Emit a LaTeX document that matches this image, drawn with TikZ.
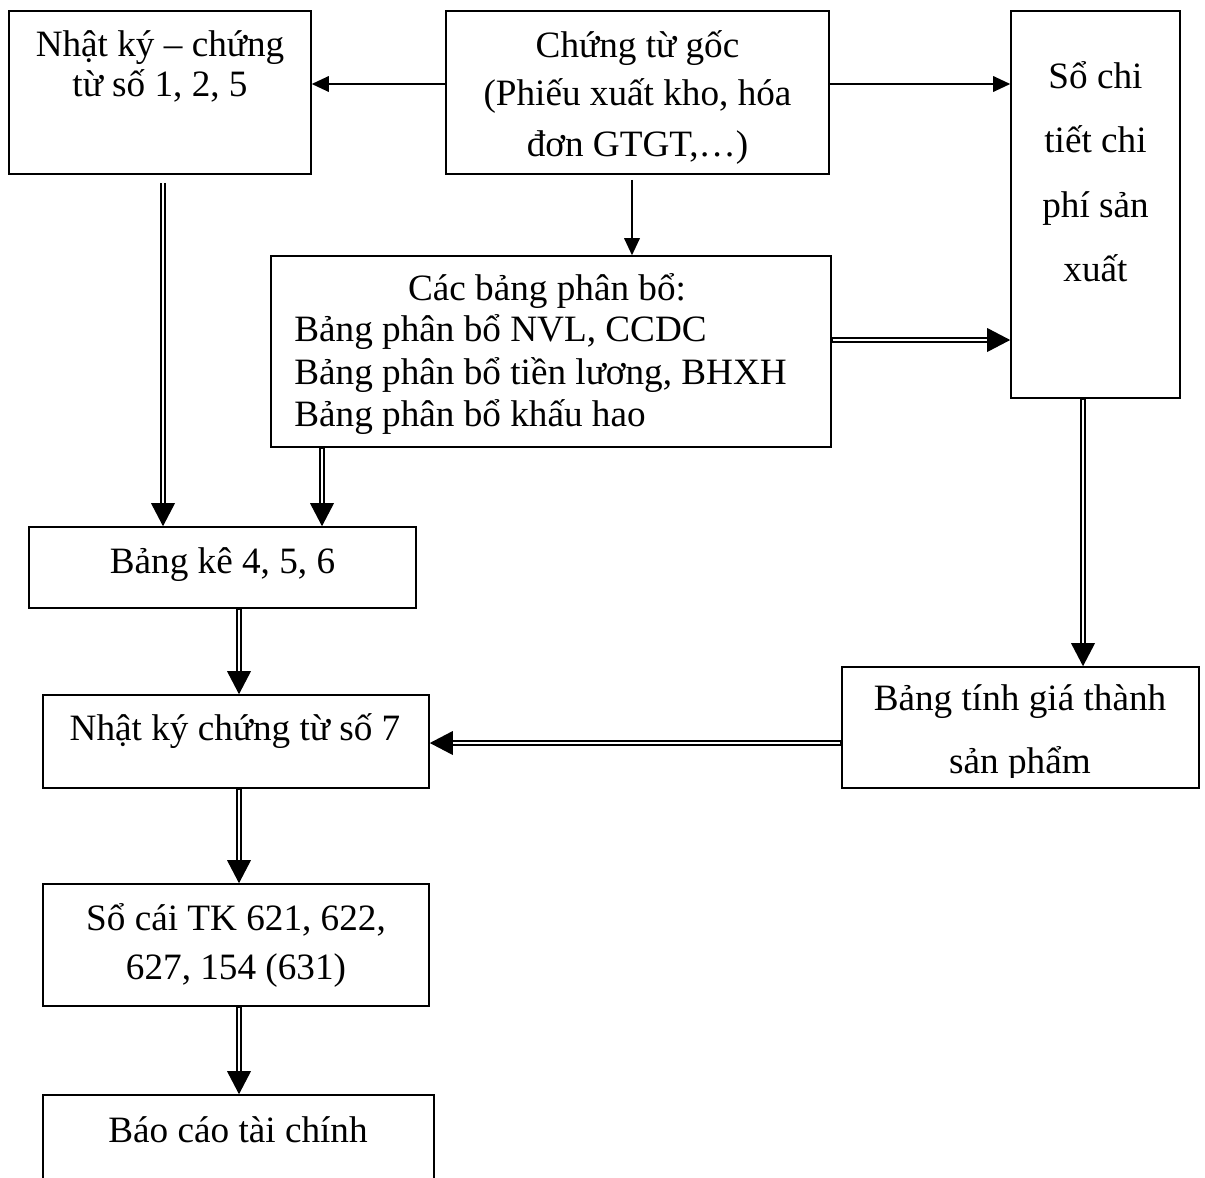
\documentclass[tikz,border=0pt]{standalone}
\usepackage{fontspec}
\setmainfont{Liberation Serif}
\usetikzlibrary{arrows.meta}
\tikzset{
  box/.style={draw, line width=0.8pt, rectangle, inner sep=0pt},
  lbl/.style={anchor=base, inner sep=0pt, font=\fontsize{18.6}{22}\selectfont},
  lbll/.style={lbl, anchor=base west},
  one/.style={line width=1.1pt, -{Triangle[length=8.5pt,width=8pt,line width=0pt]}},
  dblout/.style={line width=3.4pt, -{Triangle[length=11.5pt,width=12pt,line width=0pt]}},
  dblin/.style={white, line width=1.4pt, shorten >=11.5pt, shorten <=0.4pt},
}
% double-line connector: thick black stroke with tip, white core on top
\newcommand\dblcon[3][]{\draw[dblout,#1] #2 -- #3; \draw[dblin,#1] #2 -- #3;}
\begin{document}
\begin{tikzpicture}[x=0.5pt, y=-0.5pt]
\clip (0,0) rectangle (1205,1178);

% boxes
\node[box, minimum width=151pt,   minimum height=81.5pt] (A) at (160,92.5) {};
\node[box, minimum width=191.5pt, minimum height=81.5pt] (B) at (637.5,92.5) {};
\node[box, minimum width=84.5pt,  minimum height=193.5pt] (C) at (1095.5,204.5) {};
\node[box, minimum width=280pt,   minimum height=95.5pt] (D) at (551,351.5) {};
\node[box, minimum width=193.5pt, minimum height=40.5pt] (E) at (222.5,567.5) {};
\node[box, minimum width=193pt,   minimum height=46.5pt] (F) at (236,741.5) {};
\node[box, minimum width=178.5pt, minimum height=60.5pt] (G) at (1020.5,727.5) {};
\node[box, minimum width=193pt,   minimum height=61pt]   (H) at (236,945) {};
\node[box, minimum width=195.5pt, minimum height=60pt]   (I) at (238.5,1155) {};

% guide lines for connectors
\coordinate (yTop) at (0,84);
\coordinate (yMid) at (0,340);
\coordinate (yLow) at (0,743);
\coordinate (xA) at (163,0);
\coordinate (xD) at (322,0);
\coordinate (xB) at (632,0);
\coordinate (xC) at (1083,0);
\coordinate (xF) at (239,0);

% single connectors
\draw[one] (B.west |- yTop) -- (A.east |- yTop);
\draw[one] (B.east |- yTop) -- (C.west |- yTop);
\draw[one, shorten <=2.5pt] (B.south -| xB) -- (D.north -| xB);

% double connectors
\dblcon[shorten <=4pt]{(A.south -| xA)}{(E.north -| xA)}
\dblcon{(D.south -| xD)}{(E.north -| xD)}
\dblcon{(D.east |- yMid)}{(C.west |- yMid)}
\dblcon{(C.south -| xC)}{(G.north -| xC)}
\dblcon{(G.west |- yLow)}{(F.east |- yLow)}
\dblcon{(E.south -| xF)}{(F.north -| xF)}
\dblcon{(F.south -| xF)}{(H.north -| xF)}
\dblcon{(H.south -| xF)}{(I.north -| xF)}

% labels
\node[lbl] (tA1) at (160,56) {Nhật ký – chứng};
\node[lbl] (tA2) at (160,96) {từ số 1, 2, 5};

\node[lbl] (tB1) at (637.5,57) {Chứng từ gốc};
\node[lbl] (tB2) at (637.5,105) {(Phiếu xuất kho, hóa};
\node[lbl] (tB3) at (637.5,156) {đơn GTGT,…)};

\node[lbl] (tC1) at (1095.5,88) {Sổ chi};
\node[lbl] (tC2) at (1095.5,152) {tiết chi};
\node[lbl] (tC3) at (1095.5,217) {phí sản};
\node[lbl] (tC4) at (1095.5,281) {xuất};

\node[lbl]  (tD1) at (547,300) {Các bảng phân bổ:};
\node[lbll] (tD2) at (294,341) {Bảng phân bổ NVL, CCDC};
\node[lbll] (tD3) at (294,384) {Bảng phân bổ tiền lương, BHXH};
\node[lbll] (tD4) at (294,426) {Bảng phân bổ khấu hao};

\node[lbl] (tE) at (222.5,573) {Bảng kê 4, 5, 6};
\node[lbl] (tF) at (235,740) {Nhật ký chứng từ số 7};

\begin{scope}
  \clip (G.north west) rectangle ([yshift=5.5pt]G.south east);
  \node[lbl] (tG1) at (1020,710) {Bảng tính giá thành};
  \node[lbl] (tG2) at (1020,773) {sản phẩm};
\end{scope}

\node[lbl] (tH1) at (236,930) {Sổ cái TK 621, 622,};
\node[lbl] (tH2) at (236,979) {627, 154 (631)};

\node[lbl] (tI) at (238,1142) {Báo cáo tài chính};
\end{tikzpicture}
\end{document}
